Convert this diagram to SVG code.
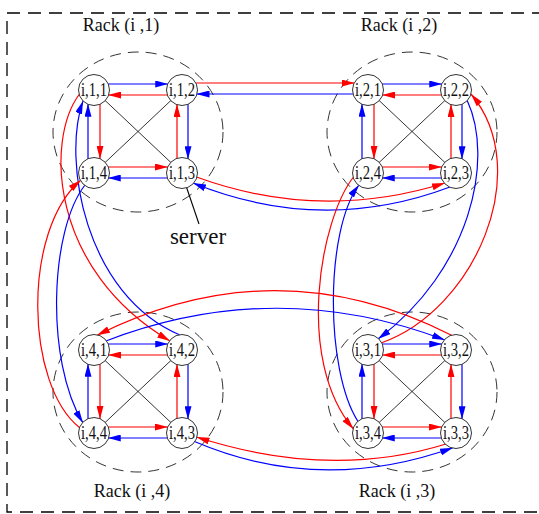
<svg xmlns="http://www.w3.org/2000/svg" width="539" height="514" viewBox="0 0 539 514">
<defs>
<style>
.box{fill:none;stroke:#000;stroke-width:1.3;stroke-dasharray:13 8}
.rack{fill:none;stroke:#333;stroke-width:1;stroke-dasharray:11 7}
.node circle{fill:#fff;stroke:#333;stroke-width:1}
.node text{font-family:"Liberation Serif","Times New Roman",serif;font-size:18.5px;text-anchor:middle;fill:#111}
.lbl{font-family:"Liberation Serif","Times New Roman",serif;font-size:18px;text-anchor:middle;fill:#111}
.srv{font-family:"Liberation Serif","Times New Roman",serif;font-size:23px;text-anchor:middle;fill:#111}
.r{fill:none;stroke:#f00;stroke-width:1.2;marker-end:url(#ah-r)}
.b{fill:none;stroke:#00f;stroke-width:1.2;marker-end:url(#ah-b)}
.d{fill:none;stroke:#000;stroke-width:0.8}
</style>
<marker id="ah-r" viewBox="0 0 13 7" refX="13" refY="3.5" markerWidth="13" markerHeight="7" markerUnits="userSpaceOnUse" orient="auto"><path d="M0,0 L13,3.5 L0,7 Z" fill="#f00"/></marker>
<marker id="ah-b" viewBox="0 0 13 7" refX="13" refY="3.5" markerWidth="13" markerHeight="7" markerUnits="userSpaceOnUse" orient="auto"><path d="M0,0 L13,3.5 L0,7 Z" fill="#00f"/></marker>
</defs>

<path class="box" d="M545,13 H7 V512 H545"/>

<g id="racks">
<ellipse class="rack" cx="138" cy="132" rx="85" ry="80"/>
<ellipse class="rack" cx="412" cy="132" rx="85" ry="80"/>
<ellipse class="rack" cx="412" cy="392" rx="85" ry="80"/>
<ellipse class="rack" cx="138" cy="392" rx="85" ry="80"/>
<text class="lbl" x="121" y="31">Rack (i ,1)</text>
<text class="lbl" x="399" y="31">Rack (i ,2)</text>
<text class="lbl" x="397" y="497">Rack (i ,3)</text>
<text class="lbl" x="132" y="497">Rack (i ,4)</text>
</g>

<g id="connectors">
<g transform="translate(94,90)">
<path class="d" d="M10.9,10.3 L77.1,72.7 M77.1,10.3 L10.9,72.7"/>
<path class="b" d="M13.75,-6 H74.25"/>
<path class="r" d="M73.9,5 H14.1"/>
<path class="b" d="M94,13.75 V69.25"/>
<path class="r" d="M83,68.9 V14.1"/>
<path class="r" d="M14.1,77 H73.9"/>
<path class="b" d="M74.25,88 H13.75"/>
<path class="b" d="M-6,69.25 V13.75"/>
<path class="r" d="M6,14.1 V68.9"/>
</g>
<g transform="translate(368,90)">
<path class="d" d="M10.9,10.3 L77.1,72.7 M77.1,10.3 L10.9,72.7"/>
<path class="b" d="M13.75,-6 H74.25"/>
<path class="r" d="M73.9,5 H14.1"/>
<path class="b" d="M94,13.75 V69.25"/>
<path class="r" d="M83,68.9 V14.1"/>
<path class="r" d="M14.1,77 H73.9"/>
<path class="b" d="M74.25,88 H13.75"/>
<path class="b" d="M-6,69.25 V13.75"/>
<path class="r" d="M6,14.1 V68.9"/>
</g>
<g transform="translate(368,350)">
<path class="d" d="M10.9,10.3 L77.1,72.7 M77.1,10.3 L10.9,72.7"/>
<path class="b" d="M13.75,-6 H74.25"/>
<path class="r" d="M73.9,5 H14.1"/>
<path class="b" d="M94,13.75 V69.25"/>
<path class="r" d="M83,68.9 V14.1"/>
<path class="r" d="M14.1,77 H73.9"/>
<path class="b" d="M74.25,88 H13.75"/>
<path class="b" d="M-6,69.25 V13.75"/>
<path class="r" d="M6,14.1 V68.9"/>
</g>
<g transform="translate(94,350)">
<path class="d" d="M10.9,10.3 L77.1,72.7 M77.1,10.3 L10.9,72.7"/>
<path class="b" d="M13.75,-6 H74.25"/>
<path class="r" d="M73.9,5 H14.1"/>
<path class="b" d="M94,13.75 V69.25"/>
<path class="r" d="M83,68.9 V14.1"/>
<path class="r" d="M14.1,77 H73.9"/>
<path class="b" d="M74.25,88 H13.75"/>
<path class="b" d="M-6,69.25 V13.75"/>
<path class="r" d="M6,14.1 V68.9"/>
</g>

<path class="r" d="M195.3,83 H354.7"/>
<path class="b" d="M353.5,94 H196.5"/>
<path class="r" d="M196.5,177 Q320,222 445,183"/>
<path class="b" d="M450,187 Q322,235 193,183"/>
<path class="r" d="M79.5,94 C45,140 50,270 170,341"/>
<path class="b" d="M180,335 C85,295 62,160 83,101"/>
<path class="r" d="M80,428 C25,385 22,230 81,180"/>
<path class="b" d="M85,185 C50,230 45,360 83,423"/>
<path class="b" d="M467,100 C495,160 470,270 378,339"/>
<path class="r" d="M381,343 C475,310 535,170 471,94"/>
<path class="r" d="M353.5,177 C320,220 295,360 353.5,429"/>
<path class="b" d="M358,421.5 C325,370 325,230 359,185"/>
<path class="r" d="M452,335.5 Q276,246 97,335.3"/>
<path class="b" d="M106,341 Q275,276 445,340"/>
<path class="r" d="M446,444 Q330,480 196.5,437"/>
<path class="b" d="M194.5,441.5 Q320,495 453,447.7"/>
<path class="d" d="M186.5,187.3 L199,224" style="stroke-width:1.1"/>
</g>

<g id="n-i-1-1" class="node"><circle cx="94" cy="90" r="15.5"/><text x="94" y="96" textLength="26" lengthAdjust="spacingAndGlyphs">i,1,1</text></g>
<g id="n-i-1-2" class="node"><circle cx="182" cy="90" r="15.5"/><text x="182" y="96" textLength="26" lengthAdjust="spacingAndGlyphs">i,1,2</text></g>
<g id="n-i-1-3" class="node"><circle cx="182" cy="173" r="15.5"/><text x="182" y="179" textLength="26" lengthAdjust="spacingAndGlyphs">i,1,3</text></g>
<g id="n-i-1-4" class="node"><circle cx="94" cy="173" r="15.5"/><text x="94" y="179" textLength="26" lengthAdjust="spacingAndGlyphs">i,1,4</text></g>
<g id="n-i-2-1" class="node"><circle cx="368" cy="90" r="15.5"/><text x="368" y="96" textLength="26" lengthAdjust="spacingAndGlyphs">i,2,1</text></g>
<g id="n-i-2-2" class="node"><circle cx="456" cy="90" r="15.5"/><text x="456" y="96" textLength="26" lengthAdjust="spacingAndGlyphs">i,2,2</text></g>
<g id="n-i-2-3" class="node"><circle cx="456" cy="173" r="15.5"/><text x="456" y="179" textLength="26" lengthAdjust="spacingAndGlyphs">i,2,3</text></g>
<g id="n-i-2-4" class="node"><circle cx="368" cy="173" r="15.5"/><text x="368" y="179" textLength="26" lengthAdjust="spacingAndGlyphs">i,2,4</text></g>
<g id="n-i-3-1" class="node"><circle cx="368" cy="350" r="15.5"/><text x="368" y="356" textLength="26" lengthAdjust="spacingAndGlyphs">i,3,1</text></g>
<g id="n-i-3-2" class="node"><circle cx="456" cy="350" r="15.5"/><text x="456" y="356" textLength="26" lengthAdjust="spacingAndGlyphs">i,3,2</text></g>
<g id="n-i-3-3" class="node"><circle cx="456" cy="433" r="15.5"/><text x="456" y="439" textLength="26" lengthAdjust="spacingAndGlyphs">i,3,3</text></g>
<g id="n-i-3-4" class="node"><circle cx="368" cy="433" r="15.5"/><text x="368" y="439" textLength="26" lengthAdjust="spacingAndGlyphs">i,3,4</text></g>
<g id="n-i-4-1" class="node"><circle cx="94" cy="350" r="15.5"/><text x="94" y="356" textLength="26" lengthAdjust="spacingAndGlyphs">i,4,1</text></g>
<g id="n-i-4-2" class="node"><circle cx="182" cy="350" r="15.5"/><text x="182" y="356" textLength="26" lengthAdjust="spacingAndGlyphs">i,4,2</text></g>
<g id="n-i-4-3" class="node"><circle cx="182" cy="433" r="15.5"/><text x="182" y="439" textLength="26" lengthAdjust="spacingAndGlyphs">i,4,3</text></g>
<g id="n-i-4-4" class="node"><circle cx="94" cy="433" r="15.5"/><text x="94" y="439" textLength="26" lengthAdjust="spacingAndGlyphs">i,4,4</text></g>

<text class="srv" x="198" y="244">server</text>
</svg>
